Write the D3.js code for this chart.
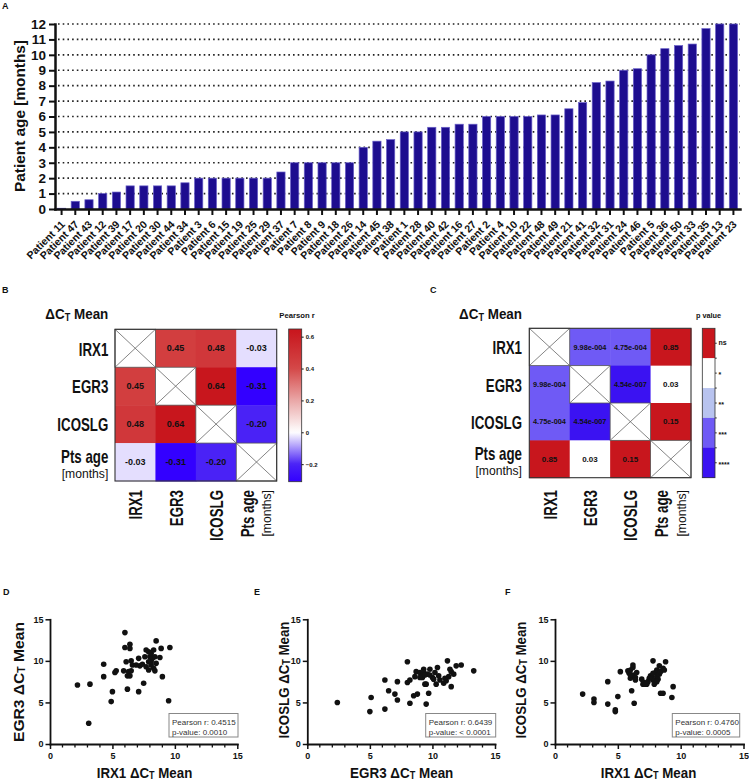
<!DOCTYPE html>
<html><head><meta charset="utf-8">
<script src="https://cdn.jsdelivr.net/npm/d3@7"></script>
<style>
html,body{margin:0;padding:0;background:#fff;}
svg{display:block;font-family:"Liberation Sans",Arial,Helvetica,sans-serif;}
</style></head><body>
<svg id="c" width="749" height="782"></svg>
<script>
// ---------------- DATA ----------------
const patients = ["Patient 11","Patient 47","Patient 43","Patient 12","Patient 39","Patient 17","Patient 20","Patient 30","Patient 44","Patient 34",
  "Patient 3","Patient 6","Patient 15","Patient 19","Patient 25","Patient 29","Patient 37","Patient 7","Patient 8","Patient 9",
  "Patient 18","Patient 26","Patient 14","Patient 45","Patient 38","Patient 1","Patient 28","Patient 40","Patient 42","Patient 16",
  "Patient 27","Patient 2","Patient 4","Patient 10","Patient 22","Patient 48","Patient 49","Patient 21","Patient 41","Patient 32",
  "Patient 31","Patient 24","Patient 46","Patient 5","Patient 36","Patient 50","Patient 33","Patient 35","Patient 13","Patient 23"];
const ages = [0.05,0.5,0.6,1.0,1.1,1.5,1.5,1.5,1.5,1.7,
  2,2,2,2,2,2,2.4,3,3,3,
  3,3,4,4.4,4.5,5,5,5.3,5.3,5.5,
  5.5,6,6,6,6,6.1,6.1,6.5,6.9,8.2,
  8.3,9,9.1,10,10.4,10.6,10.7,11.7,12,12];
const ageTicks = [0,1,2,3,4,5,6,7,8,9,10,11,12];

const genes = ["IRX1","EGR3","ICOSLG","Pts age"];
const pearsonR = [[null,0.45,0.48,-0.03],[0.45,null,0.64,-0.31],[0.48,0.64,null,-0.20],[-0.03,-0.31,-0.20,null]];
const rTicks = [0.6,0.4,0.2,0,-0.2];
const pValues = [[null,9.98e-4,4.75e-4,0.85],[9.98e-4,null,4.54e-7,0.03],[4.75e-4,4.54e-7,null,0.15],[0.85,0.03,0.15,null]];
const pLabels = [[null,"9.98e-004","4.75e-004","0.85"],["9.98e-004",null,"4.54e-007","0.03"],["4.75e-004","4.54e-007",null,"0.15"],["0.85","0.03","0.15",null]];
const sigLabels = ["ns","*","**","***","****"];
const sigCuts = [0.0001,0.001,0.01,0.05];

const ctTicks = [0,5,10,15];
// D: IRX1 vs EGR3
const dX = [2.2,3.2,3.1,4.3,4.3,4.9,5.0,5.2,5.3,6.0,6.0,6.4,6.4,5.9,6.1,6.3,6.2,6.4,6.2,6.5,6.6,7.1,7.2,7.1,7.5,7.4,7.7,7.9,8.0,7.9,8.1,8.2,8.1,8.3,8.4,8.3,8.5,8.5,8.8,8.9,9.0,9.5,9.6,7.7,8.1,6.5,6.9,7.6,7.9,8.4];
const dY = [7.1,7.2,2.5,9.6,8.1,5.1,6.3,8.6,8.8,13.4,11.6,11.5,12.0,8.8,9.9,8.7,8.2,8.2,6.6,10.0,9.5,10.3,9.4,6.3,7.3,9.6,11.3,11.1,10.5,9.9,10.9,10.3,9.5,9.1,8.8,11.3,12.4,9.7,10.4,11.5,8.1,5.2,11.6,9.3,9.9,8.8,9.5,10.5,8.9,10.5];
// E: EGR3 vs ICOSLG
const eX = [2.4,5.0,5.1,6.2,6.2,6.5,7.0,7.2,7.2,8.0,8.0,8.2,8.2,8.5,8.6,8.7,8.8,9.0,9.1,9.3,9.3,9.4,9.5,9.5,9.6,9.7,9.8,9.8,10.0,10.2,10.3,10.4,10.5,10.6,10.9,11.1,11.3,11.2,11.4,11.5,11.5,11.7,11.9,12.3,13.3,11.0,10.1,9.2,9.0,9.4];
const eY = [5.0,3.9,5.6,4.2,7.7,6.4,6.0,7.5,5.3,9.9,7.4,7.7,4.9,5.8,8.1,8.7,6.0,8.6,8.1,9.0,8.6,7.2,4.8,7.2,8.4,6.1,9.0,8.3,8.0,8.6,7.2,9.2,8.2,7.7,7.3,7.6,8.1,10.0,9.0,8.7,6.9,8.4,9.4,9.5,8.8,7.9,7.8,8.0,8.0,8.3];
// F: IRX1 vs ICOSLG
const fX = [2.2,3.1,3.1,4.2,4.2,4.8,4.8,5.0,5.2,5.8,5.9,6.0,6.0,6.1,6.2,6.2,6.2,6.3,6.4,6.4,6.5,6.9,7.0,7.1,7.3,7.4,7.6,7.7,7.8,7.8,7.9,8.0,8.1,8.1,8.2,8.3,8.3,8.4,8.4,8.6,8.6,8.7,8.8,7.2,9.3,9.4,8.1,7.5,6.0,7.8];
const fY = [6.0,5.4,5.0,7.5,4.8,4.1,3.9,5.7,8.7,8.8,8.5,8.9,7.9,6.4,9.2,9.5,8.3,4.9,8.0,7.7,8.6,7.8,7.2,7.4,7.2,7.5,8.2,8.0,10.0,7.7,7.2,8.6,8.1,8.9,7.8,8.4,9.4,8.7,6.1,6.1,9.1,8.9,9.9,7.2,5.6,6.9,7.5,7.9,8.3,8.5];
const statsD = ["Pearson r: 0.4515","p-value: 0.0010"];
const statsE = ["Pearson r: 0.6439","p-value: < 0.0001"];
const statsF = ["Pearson r: 0.4760","p-value: 0.0005"];

// ---------------- HELPERS ----------------
const svg = d3.select('#c');
const FONT = '"Liberation Sans", Arial, Helvetica, sans-serif';
const INK = '#111';

function txt(parent, o) {
  const g = parent.append('g').attr('transform', `translate(${o.x},${o.y}) rotate(${o.rot||0})`);
  const t = g.append('text').attr('text-anchor', o.anchor||'start')
    .attr('font-size', o.size).attr('font-weight', o.weight||'bold')
    .attr('font-family', FONT).attr('fill', o.fill||INK);
  if (o.dy) t.attr('dy', o.dy);
  if (o.delta !== undefined) {
    t.append('tspan').text(o.delta + 'ΔC');
    t.append('tspan').attr('font-size', o.size*0.68).attr('dy', o.size*0.13).text('T');
    t.append('tspan').attr('dy', -o.size*0.13).text(' Mean');
  } else t.text(o.text);
  if (o.width) {
    const w = t.node().getComputedTextLength();
    if (w > 0) t.attr('transform', `scale(${o.width/w},1)`);
  } else if (o.sx) t.attr('transform', `scale(${o.sx},1)`);
  return t;
}

// panel letters
[['A',2,9],['B',2,293],['C',430,293],['D',3,595],['E',254,595],['F',505,595]]
  .forEach(([l,x,y]) => txt(svg,{x,y,text:l,size:9}));

// ---------------- PANEL A ----------------
const xA = d3.scaleBand().domain(patients).range([55,740]).paddingInner(0.4).paddingOuter(0.18);
const yA = d3.scaleLinear().domain([0,12]).range([209,24]);

svg.append('g').selectAll('line').data(ageTicks.filter(d=>d>0)).join('line')
  .attr('x1',58).attr('x2',740).attr('y1',d=>yA(d)).attr('y2',d=>yA(d))
  .attr('stroke','#222').attr('stroke-width',1.6).attr('stroke-dasharray','1.6,3.1');

svg.append('g').selectAll('rect').data(ages).join('rect')
  .attr('x',(d,i)=>xA(patients[i])).attr('y',d=>yA(d))
  .attr('width',xA.bandwidth()).attr('height',d=>yA(0)-yA(d))
  .attr('fill','#1d0d8f').attr('stroke','#6a60c8').attr('stroke-width',0.7);

const ayA = svg.append('g').attr('transform','translate(55,0)')
  .call(d3.axisLeft(yA).tickValues(ageTicks).tickSize(6).tickSizeOuter(0).tickPadding(3).tickFormat(d3.format('d')));
ayA.attr('font-family',FONT).attr('font-size',13.5).attr('font-weight','bold');
ayA.select('.domain').attr('stroke',INK).attr('stroke-width',2.5).attr('stroke-linecap','square');
ayA.selectAll('.tick line').attr('stroke',INK).attr('stroke-width',2);
ayA.selectAll('.tick text').attr('fill',INK);

const axA = svg.append('g').attr('transform','translate(0,209)')
  .call(d3.axisBottom(xA).tickSize(6).tickSizeOuter(0));
axA.attr('font-family',FONT).attr('font-size',10.5).attr('font-weight','bold');
axA.select('.domain').attr('stroke',INK).attr('stroke-width',2.5).attr('stroke-linecap','square');
axA.selectAll('.tick line').attr('stroke',INK).attr('stroke-width',2);
axA.selectAll('.tick text').attr('fill',INK).attr('text-anchor','end')
  .attr('x',0).attr('y',0).attr('dy',0).attr('transform','translate(4,16) rotate(-45)');

txt(svg,{x:24.5,y:116,rot:-90,anchor:'middle',text:'Patient age [months]',size:15,width:152});

// ---------------- HEATMAPS ----------------
const rColor = d3.scaleLinear().domain([-0.31,-0.2,0,0.2,0.4,0.64])
  .range(["#3300ff","#4a22f6","#ffffff","#eaa7a7","#d44848","#c8161d"]).clamp(true);
const sigColor = d3.scaleThreshold().domain(sigCuts)
  .range(["#3b12f2","#6f5af5","#b8c3ef","#ffffff","#c8161d"]);

function heatmap(o) {
  const g = svg.append('g');
  const xs = d3.scaleBand().domain(genes).range([o.x0,o.x1]);
  const ys = d3.scaleBand().domain(genes).range([o.y0,o.y1]);
  const cells = [];
  genes.forEach((r,i)=>genes.forEach((c,j)=>cells.push({r,c,i,j})));
  g.selectAll('rect.cell').data(cells).join('rect').attr('class','cell')
    .attr('x',d=>xs(d.c)).attr('y',d=>ys(d.r))
    .attr('width',xs.bandwidth()+0.5).attr('height',ys.bandwidth()+0.5)
    .attr('fill',d=>d.i===d.j?'#fff':o.fill(d.i,d.j));
  const diag = cells.filter(d=>d.i===d.j);
  g.selectAll('rect.diag').data(diag).join('rect').attr('class','diag')
    .attr('x',d=>xs(d.c)).attr('y',d=>ys(d.r)).attr('width',xs.bandwidth()).attr('height',ys.bandwidth())
    .attr('fill','none').attr('stroke','#555').attr('stroke-width',0.8);
  g.selectAll('path.x').data(diag).join('path').attr('class','x')
    .attr('d',d=>{const x0=xs(d.c),y0=ys(d.r),w=xs.bandwidth(),h=ys.bandwidth();
      return `M${x0},${y0}L${x0+w},${y0+h}M${x0+w},${y0}L${x0},${y0+h}`;})
    .attr('stroke','#666').attr('stroke-width',0.8).attr('fill','none');
  g.selectAll('text.v').data(cells.filter(d=>d.i!==d.j)).join('text').attr('class','v')
    .attr('x',d=>xs(d.c)+xs.bandwidth()/2).attr('y',d=>ys(d.r)+ys.bandwidth()/2).attr('dy','0.35em')
    .attr('text-anchor','middle').attr('font-family',FONT).attr('font-weight','bold')
    .attr('font-size',d=>o.fs(d.i,d.j)).attr('fill',INK)
    .text(d=>o.label(d.i,d.j));
  g.append('rect').attr('x',o.x0).attr('y',o.y0).attr('width',o.x1-o.x0).attr('height',o.y1-o.y0)
    .attr('fill','none').attr('stroke','#333').attr('stroke-width',1.1);
  // row labels
  genes.forEach((name,i)=>{
    const cy = ys(name)+ys.bandwidth()/2;
    if (name === 'Pts age') {
      txt(g,{x:o.rowX,y:cy+0.5,anchor:'end',text:'Pts age',size:17.5,sx:0.76});
      txt(g,{x:o.rowX,y:cy+16.3,anchor:'end',text:'[months]',size:13.5,weight:'normal',sx:0.9});
    } else txt(g,{x:o.rowX,y:cy+7.3,anchor:'end',text:name,size:17.5,sx:0.76});
  });
  // column labels
  genes.forEach((name,j)=>{
    const cx = xs(name)+xs.bandwidth()/2;
    if (name === 'Pts age') {
      txt(g,{x:cx-2.5,y:490,rot:-90,anchor:'end',text:'Pts age',size:17.5,sx:0.76});
      txt(g,{x:cx+15,y:490,rot:-90,anchor:'end',text:'[months]',size:13.5,weight:'normal',sx:0.9});
    } else txt(g,{x:cx+7,y:490,rot:-90,anchor:'end',text:name,size:17.5,sx:0.76});
  });
  txt(g,{x:o.rowX,y:319,anchor:'end',delta:'',size:15,width:63});
}

heatmap({x0:115,x1:276.7,y0:329.3,y1:481,rowX:108.3,
  fill:(i,j)=>rColor(pearsonR[i][j]), label:(i,j)=>pearsonR[i][j].toFixed(2), fs:()=>9});
heatmap({x0:529.3,x1:691,y0:328.3,y1:477.7,rowX:522,
  fill:(i,j)=>sigColor(pValues[i][j]), label:(i,j)=>pLabels[i][j],
  fs:(i,j)=>pLabels[i][j].length>5?7.3:8});

// colorbar B
const cbB = {x:288.7,w:13,y0:329,y1:481.7};
const cbScale = d3.scaleLinear().domain([-0.31,0.648]).range([cbB.y1,cbB.y0]);
const defs = svg.append('defs');
const grad = defs.append('linearGradient').attr('id','rgrad').attr('x1',0).attr('y1',0).attr('x2',0).attr('y2',1);
d3.range(0,1.0001,0.02).forEach(t=>{
  grad.append('stop').attr('offset',t).attr('stop-color',rColor(cbScale.invert(cbB.y0+t*(cbB.y1-cbB.y0))));
});
svg.append('rect').attr('x',cbB.x).attr('y',cbB.y0).attr('width',cbB.w).attr('height',cbB.y1-cbB.y0)
  .attr('fill','url(#rgrad)').attr('stroke','#333').attr('stroke-width',0.8);
const cbAx = svg.append('g').attr('transform',`translate(${cbB.x+cbB.w},0)`)
  .call(d3.axisRight(cbScale).tickValues(rTicks).tickSize(2).tickSizeOuter(0).tickPadding(2).tickFormat(d=>d===0?'0':d3.format('.1f')(d)));
cbAx.attr('font-family',FONT).attr('font-size',6).attr('font-weight','bold');
cbAx.select('.domain').remove();
cbAx.selectAll('.tick line').attr('stroke',INK);
cbAx.selectAll('.tick text').attr('fill',INK);
txt(svg,{x:297,y:318.3,anchor:'middle',text:'Pearson r',size:7.7});

// colorbar C (discrete)
const cbC = {x:702.3,w:12.7,y0:328.3,y1:477.7};
const bandY = d3.scaleBand().domain(sigLabels).range([cbC.y0,cbC.y1]);
const sigFill = ["#c8161d","#ffffff","#b8c3ef","#6f5af5","#3b12f2"];
svg.append('g').selectAll('rect').data(sigLabels).join('rect')
  .attr('x',cbC.x).attr('y',d=>bandY(d)).attr('width',cbC.w).attr('height',bandY.bandwidth()+0.3)
  .attr('fill',(d,i)=>sigFill[i]);
svg.append('rect').attr('x',cbC.x).attr('y',cbC.y0).attr('width',cbC.w).attr('height',cbC.y1-cbC.y0)
  .attr('fill','none').attr('stroke','#333').attr('stroke-width',0.8);
const tickYs = [];
sigLabels.forEach(d=>{tickYs.push(bandY(d)+bandY.bandwidth()/2); if(bandY(d)>cbC.y0) tickYs.push(bandY(d));});
svg.append('g').selectAll('line').data(tickYs).join('line')
  .attr('x1',cbC.x+cbC.w).attr('x2',cbC.x+cbC.w+1.8).attr('y1',d=>d).attr('y2',d=>d)
  .attr('stroke',INK).attr('stroke-width',0.8);
svg.append('g').selectAll('text').data(sigLabels).join('text')
  .attr('x',718.5).attr('y',d=>bandY(d)+bandY.bandwidth()/2).attr('dy',d=>d==='ns'?'0.3em':'0.55em')
  .attr('font-family',FONT).attr('font-size',7).attr('font-weight','bold').attr('fill',INK).text(d=>d);
txt(svg,{x:708.5,y:318.3,anchor:'middle',text:'p value',size:7.3});

// ---------------- SCATTERS ----------------
function scatter(o) {
  const x = d3.scaleLinear().domain([0,15]).range([o.x0,o.x1]);
  const y = d3.scaleLinear().domain([0,15]).range([744,619.3]);
  const g = svg.append('g');
  const ax = g.append('g').attr('transform','translate(0,744)')
    .call(d3.axisBottom(x).tickValues(ctTicks).tickSize(5).tickSizeOuter(0).tickPadding(4).tickFormat(d3.format('d')));
  ax.attr('font-family',FONT).attr('font-size',9).attr('font-weight','bold');
  ax.select('.domain').attr('stroke',INK).attr('stroke-width',1.8).attr('stroke-linecap','square');
  ax.selectAll('.tick line').attr('stroke',INK).attr('stroke-width',1.5);
  ax.selectAll('.tick text').attr('fill',INK);
  g.append('g').selectAll('line').data(d3.range(0,16).filter(v=>v%5!==0)).join('line')
    .attr('x1',d=>x(d)).attr('x2',d=>x(d)).attr('y1',744).attr('y2',747.5)
    .attr('stroke',INK).attr('stroke-width',1.3);
  const ay = g.append('g').attr('transform',`translate(${o.x0},0)`)
    .call(d3.axisLeft(y).tickValues(ctTicks).tickSize(4.5).tickSizeOuter(0).tickPadding(2).tickFormat(d3.format('d')));
  ay.attr('font-family',FONT).attr('font-size',9).attr('font-weight','bold');
  ay.select('.domain').attr('stroke',INK).attr('stroke-width',1.8).attr('stroke-linecap','square');
  ay.selectAll('.tick line').attr('stroke',INK).attr('stroke-width',1.5);
  ay.selectAll('.tick text').attr('fill',INK);
  g.append('g').selectAll('circle').data(o.xs).join('circle')
    .attr('cx',(d)=>x(d)).attr('cy',(d,i)=>y(o.ys[i])).attr('r',2.8).attr('fill',INK);
  // stats box
  g.append('rect').attr('x',o.bx).attr('y',713.5).attr('width',o.bw).attr('height',23.5)
    .attr('fill','#fff').attr('stroke','#888').attr('stroke-width',1);
  g.selectAll('text.st').data(o.stats).join('text').attr('class','st')
    .attr('x',o.bx+3).attr('y',(d,i)=>725+i*9.8).attr('font-family',FONT).attr('font-size',8)
    .attr('fill','#333').text(d=>d);
  txt(g,{x:o.ylx,y:o.ylc,rot:-90,anchor:'middle',delta:o.yname+' ',size:15,width:o.ylw});
  txt(g,{x:o.xlc,y:777.5,anchor:'middle',delta:o.xname+' ',size:15,width:o.xlw});
}

scatter({x0:50,x1:237.3,xs:dX,ys:dY,stats:statsD,bx:169,bw:69,
  yname:'EGR3',ylx:23.5,ylc:682,ylw:120,xname:'IRX1',xlc:144.5,xlw:95.7});
scatter({x0:307.3,x1:495,xs:eX,ys:eY,stats:statsE,bx:425.7,bw:70,
  yname:'ICOSLG',ylx:288.5,ylc:680,ylw:117,xname:'EGR3',xlc:401.7,xlw:103.3});
scatter({x0:555,x1:743.5,xs:fX,ys:fY,stats:statsF,bx:672.3,bw:67.4,
  yname:'ICOSLG',ylx:525.5,ylc:680,ylw:117,xname:'IRX1',xlc:648.5,xlw:95.7});
</script></body></html>
